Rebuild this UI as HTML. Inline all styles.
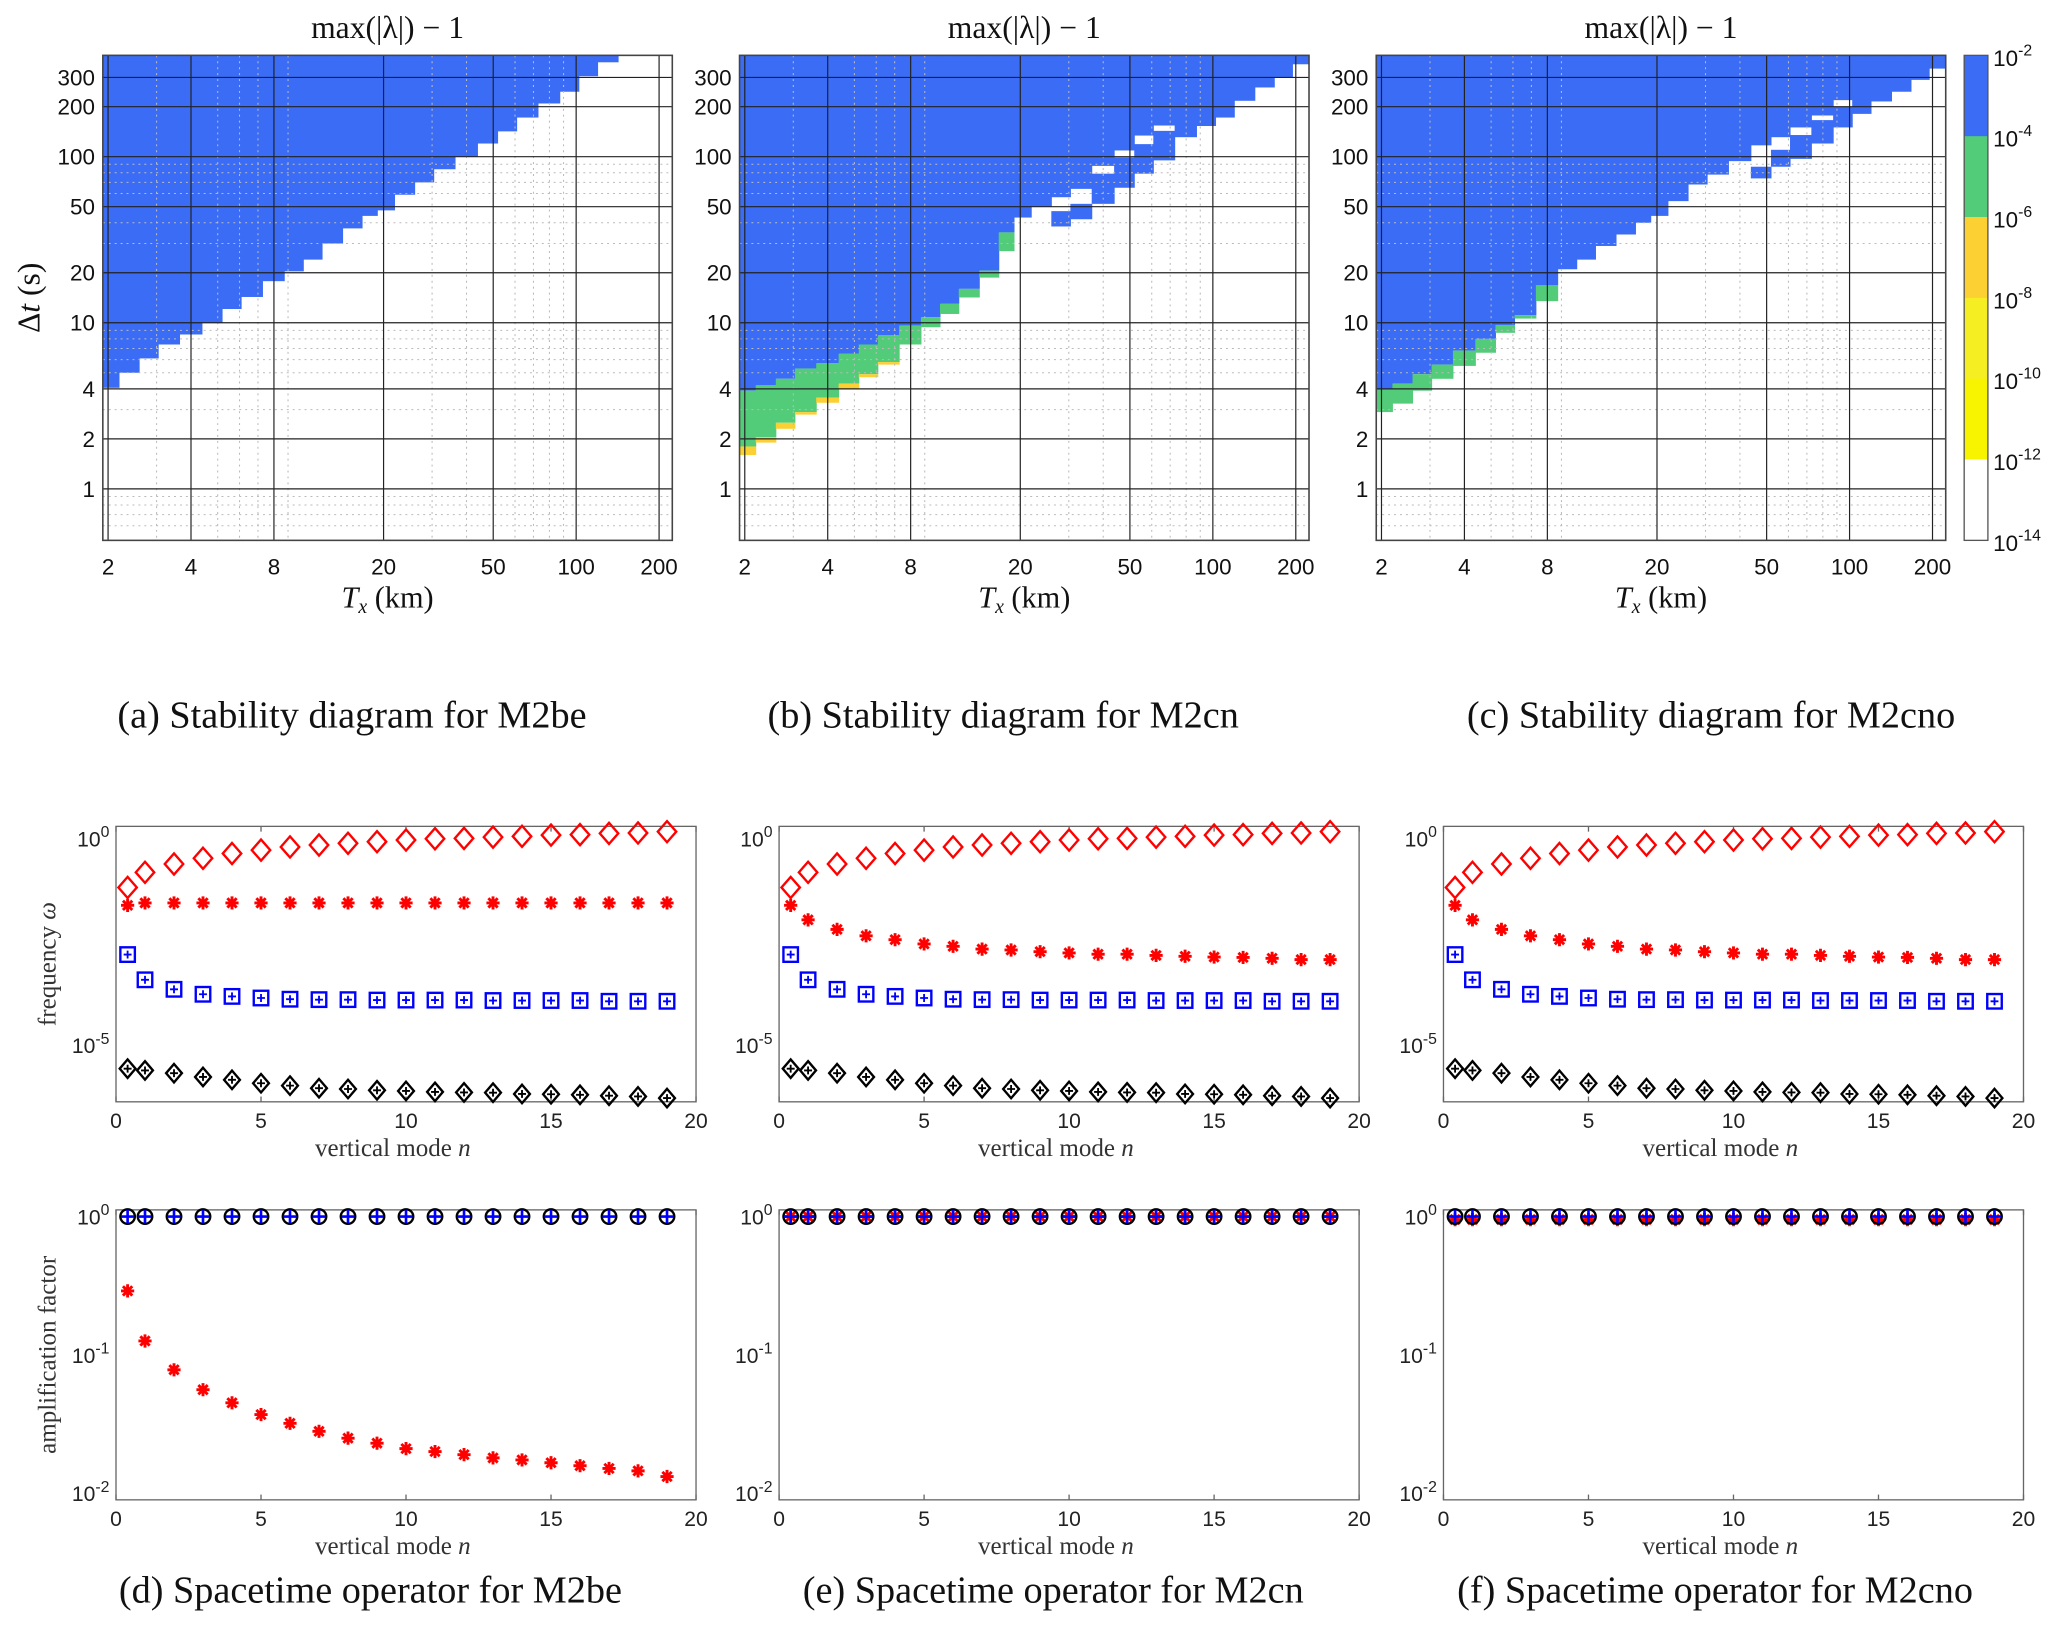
<!DOCTYPE html>
<html><head><meta charset="utf-8"><title>Stability diagrams</title>
<style>html,body{margin:0;padding:0;background:#fff}svg{display:block}</style></head>
<body>
<svg id="fig" xmlns="http://www.w3.org/2000/svg" width="2067" height="1629" viewBox="0 0 1568 1236" preserveAspectRatio="none"></svg>
<script>
// ---------- heatmap data ----------
const TX = [2,2.4,2.8,3.3,4,4.8,5.6,6.6,8,9.5,11,13,15.5,18,20,24,28,33,40,48,56,66,80,95,110,130,155,180,210];
const aBlue = [4.06,5,6.1,7.4,8.5,10,12.1,14.3,17.8,20.4,24,30,37,44,47.5,59,70,84,100,120,142,172,209,246,305,370,999,999,999];
const bBlue = [3.9,4.2,4.6,5.3,5.7,6.5,7.4,8.4,9.6,10.8,13,16,20.6,35,43,50,57,64,88,109,134,154,131,153,172,217,261,300,360];
const bGreen = [1.8,2.05,2.5,2.9,3.55,4.3,4.9,5.8,7.4,9.4,11.3,14.2,18.7,27,43,50,57,64,88,109,134,154,131,153,172,217,261,300,360];
const bYellow = [1.6,1.9,2.3,2.8,3.3,4.0,4.7,5.6,7.4,9.4,11.3,14.2,18.7,27,43,50,57,64,88,109,134,154,131,153,172,217,261,300,360];
const bIslLo = [0,0,0,0,0,0,0,0,0,0,0,0,0,0,0,0,38,42,52,65,79,95,0,0,0,0,0,0,0];
const bIslHi = [0,0,0,0,0,0,0,0,0,0,0,0,0,0,0,0,47,52,79,99,119,143,0,0,0,0,0,0,0];
const cBlue = [4.0,4.3,4.9,5.6,6.8,8.0,9.7,11.1,16.8,21,24,29,34,40,44,54,68,78,94,117,131,150,177,219,181,215,246,290,339];
const cGreen = [2.9,3.26,3.9,4.6,5.5,6.6,8.7,10.6,13.5,21,24,29,34,40,44,54,68,78,94,117,131,150,177,219,181,215,246,290,339];
const cIslLo = [0,0,0,0,0,0,0,0,0,0,0,0,0,0,0,0,0,0,0,74,87,97,120,150,0,0,0,0,0];
const cIslHi = [0,0,0,0,0,0,0,0,0,0,0,0,0,0,0,0,0,0,0,87,110,135,166,200,0,0,0,0,0];
const xTickVals = [2,4,8,20,50,100,200];
const yTickVals = [1,2,4,10,20,50,100,200,300];
const cbarLabels = ["-2","-4","-6","-8","-10","-12","-14"];
// ---------- mode data ----------
const N = [0.4,1,2,3,4,5,6,7,8,9,10,11,12,13,14,15,16,17,18,19];
const freqDiamond = [0.065,0.151,0.24,0.33,0.43,0.52,0.62,0.69,0.76,0.83,0.91,0.98,1.0,1.07,1.12,1.2,1.23,1.32,1.35,1.45];
const freqStarBE = [0.024,0.0275,0.0275,0.0275,0.0275,0.0275,0.0275,0.0275,0.0275,0.0275,0.0275,0.0275,0.0275,0.0275,0.0275,0.0275,0.0275,0.0275,0.0275,0.0275];
const freqStarCN = [0.024,0.0107,6.3e-3,4.4e-3,3.55e-3,2.8e-3,2.45e-3,2.1e-3,2.0e-3,1.82e-3,1.7e-3,1.58e-3,1.58e-3,1.48e-3,1.41e-3,1.35e-3,1.32e-3,1.26e-3,1.17e-3,1.17e-3];
const freqSquare = [1.55e-3,3.8e-4,2.24e-4,1.7e-4,1.51e-4,1.38e-4,1.29e-4,1.26e-4,1.26e-4,1.23e-4,1.23e-4,1.23e-4,1.23e-4,1.2e-4,1.2e-4,1.2e-4,1.2e-4,1.15e-4,1.15e-4,1.15e-4];
const freqBlackDiamond = [2.7e-6,2.45e-6,2.1e-6,1.7e-6,1.45e-6,1.2e-6,1.05e-6,9.1e-7,8.7e-7,8.1e-7,7.8e-7,7.4e-7,7.2e-7,7.1e-7,6.6e-7,6.5e-7,6.3e-7,6.0e-7,5.75e-7,5.25e-7];
const ampStarBE = [0.29,0.126,0.078,0.056,0.045,0.037,0.032,0.028,0.025,0.023,0.021,0.02,0.019,0.018,0.0174,0.0166,0.0158,0.0151,0.0145,0.0132];
const ampOne = [1,1,1,1,1,1,1,1,1,1,1,1,1,1,1,1,1,1,1,1];
const ampStarCNO = [0.95,0.95,0.95,0.95,0.95,0.95,0.95,0.95,0.95,0.95,0.95,0.95,0.95,0.95,0.95,0.95,0.95,0.95,0.95,0.95];
const modeTicks = [0,5,10,15,20];

const NS = 'http://www.w3.org/2000/svg';
const svg = document.getElementById('fig');
function el(tag, attrs, parent, txt){
  const e = document.createElementNS(NS, tag);
  for (const k in attrs) e.setAttribute(k, attrs[k]);
  if (txt !== undefined) e.textContent = txt;
  (parent||svg).appendChild(e);
  return e;
}
const BLUE='#3a6cf6', GREEN='#52cc78', ORANGE='#fcd032', YEL='#f4ee22', YEL2='#f8f400';
const SANS='"Liberation Sans", Arial, sans-serif', SERIF='"Liberation Serif", "Times New Roman", serif';

function heatmap(L, title, blue, green, yellow, islLo, islHi, showY, name){
  const R=L+432, T=42, B=410, xl0=0.282, xl1=2.349, yl0=-0.31, yl1=2.61;
  const X = v => L + (Math.log10(v)-xl0)/(xl1-xl0)*(R-L);
  const Y = v => B - (Math.log10(v)-yl0)/(yl1-yl0)*(B-T);
  const yc = v => Math.max(T, Math.min(B, Y(v)));
  const g = el('g', {});  
  const cells = el('g', {}, g);  
  function rect(x0,x1,vLo,vHi,fill){
    const y0=yc(vHi), y1=yc(vLo); if (y1-y0<=0) return;
    const r = el('rect',{x:x0,y:y0,width:x1-x0+0.4,height:y1-y0,fill:fill},cells);
     
  }
  for (let i=0;i<TX.length;i++){
    const x0 = i===0 ? L : X(Math.sqrt(TX[i-1]*TX[i]));
    const x1 = i===TX.length-1 ? R : X(Math.sqrt(TX[i]*TX[i+1]));
    rect(x0,x1,blue[i],1000,BLUE);
    if (green) rect(x0,x1,green[i],blue[i],GREEN);
    if (yellow) rect(x0,x1,yellow[i],green[i],ORANGE);
    if (islLo && islLo[i]>0) rect(x0,x1,islLo[i],islHi[i],BLUE);
  }
  const minorX=[3,5,6,7,9,30,40,60,70,80,90];
  minorX.forEach(v=>el('line',{x1:X(v),x2:X(v),y1:T,y2:B,stroke:'#bbb','stroke-width':0.8,'stroke-dasharray':'1.5 3'},g));
  const minorY=[0.6,0.7,0.8,0.9,3,5,6,7,8,9,30,40,60,70,80,90];
  minorY.forEach(v=>el('line',{x1:L,x2:R,y1:Y(v),y2:Y(v),stroke:'#bbb','stroke-width':0.8,'stroke-dasharray':'1.5 3'},g));
  xTickVals.forEach(v=>{
    el('line',{x1:X(v),x2:X(v),y1:T,y2:B,stroke:'#222','stroke-width':0.9},g);
    const t=el('text',{x:X(v),y:436,'font-family':SANS,'font-size':17,'text-anchor':'middle',fill:'#111'},g,String(v));
     
  });
  yTickVals.forEach(v=>{
    el('line',{x1:L,x2:R,y1:Y(v),y2:Y(v),stroke:'#222','stroke-width':0.9},g);
    const t=el('text',{x:L-6,y:Y(v)+6,'font-family':SANS,'font-size':17,'text-anchor':'end',fill:'#111'},g,String(v));
     
  });
  const fr=el('rect',{x:L,y:T,width:R-L,height:B-T,fill:'none',stroke:'#444','stroke-width':1.2},g);
   
  const tt=el('text',{x:(L+R)/2,y:29,'font-family':SERIF,'font-size':24,'text-anchor':'middle',fill:'#111'},g,title);
   
  const xl=el('text',{x:(L+R)/2,y:461,'font-family':SERIF,'font-size':23,'text-anchor':'middle',fill:'#111'},g);
   
  el('tspan',{'font-style':'italic'},xl,'T');
  el('tspan',{'font-style':'italic','font-size':15,dy:4},xl,'x');
  el('tspan',{dy:-4},xl,' (km)');
  if (showY){
    const yt=el('text',{x:0,y:0,'font-family':SERIF,'font-size':24,'text-anchor':'middle',fill:'#111',transform:'translate(30,226) rotate(-90)'},g);
     
    el('tspan',{},yt,'Δ'); el('tspan',{'font-style':'italic'},yt,'t'); el('tspan',{},yt,' (s)');
  }
}
heatmap(78,'max(|λ|) − 1',aBlue,null,null,null,null,true,'stability-plot-m2be');
heatmap(561,'max(|λ|) − 1',bBlue,bGreen,bYellow,bIslLo,bIslHi,false,'stability-plot-m2cn');
heatmap(1044,'max(|λ|) − 1',cBlue,cGreen,null,cIslLo,cIslHi,false,'stability-plot-m2cno');

(function(){
  const g=el('g',{});  
  const cols=[BLUE,GREEN,ORANGE,YEL,YEL2,'#fff'];
  const T=42,B=410,h=(B-T)/6;
  cols.forEach((c,i)=>{const r=el('rect',{x:1490,y:T+i*h,width:18,height:h+0.3,fill:c},g);
     });
  el('rect',{x:1490,y:T,width:18,height:B-T,fill:'none',stroke:'#555','stroke-width':1},g);
  cbarLabels.forEach((s,i)=>{
    const t=el('text',{x:1512,y:T+i*h+8,'font-family':SANS,'font-size':17,fill:'#111'},g);
     
    el('tspan',{},t,'10'); el('tspan',{dy:-8,'font-size':12},t,s);
  });
})();

function caption(x,y,s){const t=el('text',{x:x,y:y,'font-family':SERIF,'font-size':29,'text-anchor':'middle',fill:'#111'},svg,s);
   }
caption(267,552,'(a) Stability diagram for M2be');
caption(761,552,'(b) Stability diagram for M2cn');
caption(1298,552,'(c) Stability diagram for M2cno');
caption(281,1216,'(d) Spacetime operator for M2be');
caption(799,1216,'(e) Spacetime operator for M2cn');
caption(1301,1216,'(f) Spacetime operator for M2cno');

function marker(g,type,x,y){
  let m;
  if (type==='rdiam'){ m=el('path',{d:`M${x} ${y-8}L${x+7} ${y}L${x} ${y+8}L${x-7} ${y}Z`,fill:'none',stroke:'#f00','stroke-width':1.8},g); }
  else if (type==='star'){ const r=5; let d=''; for(let k=0;k<4;k++){const a=k*Math.PI/4; d+=`M${x-r*Math.cos(a)} ${y-r*Math.sin(a)}L${x+r*Math.cos(a)} ${y+r*Math.sin(a)}`;}
    m=el('path',{d:d,stroke:'#f00','stroke-width':2.2,fill:'none'},g); }
  else if (type==='sq'){ m=el('g',{},g);
    el('rect',{x:x-5.5,y:y-5.5,width:11,height:11,fill:'none',stroke:'#00f','stroke-width':1.8},m);
    el('path',{d:`M${x-3} ${y}L${x+3} ${y}M${x} ${y-3}L${x} ${y+3}`,stroke:'#00f','stroke-width':1.4},m); }
  else if (type==='kdiam'){ m=el('g',{},g);
    el('path',{d:`M${x} ${y-7}L${x+6} ${y}L${x} ${y+7}L${x-6} ${y}Z`,fill:'none',stroke:'#000','stroke-width':1.8},m);
    el('path',{d:`M${x-3} ${y}L${x+3} ${y}M${x} ${y-3}L${x} ${y+3}`,stroke:'#000','stroke-width':1.4},m); }
  else if (type==='circ'){ m=el('g',{},g);
    el('circle',{cx:x,cy:y,r:5.5,fill:'none',stroke:'#000','stroke-width':1.8},m);
    el('path',{d:`M${x-5} ${y}L${x+5} ${y}M${x} ${y-5}L${x} ${y+5}`,stroke:'#00f','stroke-width':2},m); }
  
  
}

function modePlot(L,T,B,yl0,yl1,decs,series,ylabel,name){
  const R=L+440;
  const X=v=>L+v/20*(R-L);
  const Y=v=>B-(Math.log10(v)-yl0)/(yl1-yl0)*(B-T);
  const g=el('g',{});  
  el('rect',{x:L,y:T,width:R-L,height:B-T,fill:'#fff',stroke:'#666','stroke-width':1},g);
  modeTicks.forEach(v=>{
    el('line',{x1:X(v),x2:X(v),y1:B,y2:B-4,stroke:'#666'},g);
    el('line',{x1:X(v),x2:X(v),y1:T,y2:T+4,stroke:'#666'},g);
    const t=el('text',{x:X(v),y:B+20,'font-family':SANS,'font-size':16,'text-anchor':'middle',fill:'#222'},g,String(v));
     
  });
  for(let e=Math.ceil(yl1);e<=Math.floor(yl0);e++){
    el('line',{x1:L,x2:L+4,y1:Y(Math.pow(10,e)),y2:Y(Math.pow(10,e)),stroke:'#666'},g);
    el('line',{x1:R,x2:R-4,y1:Y(Math.pow(10,e)),y2:Y(Math.pow(10,e)),stroke:'#666'},g);
  }
  decs.forEach(e=>{
    const t=el('text',{x:L-5,y:Y(Math.pow(10,e))+6,'font-family':SANS,'font-size':16,'text-anchor':'end',fill:'#222'},g);
     
    el('tspan',{},t,'10'); el('tspan',{dy:-7,'font-size':12},t,String(e));
  });
  series.forEach(s=>{const sg=el('g',{},g);  
    N.forEach((n,i)=>marker(sg,s.t,X(n),Y(s.v[i])));});
  const xl=el('text',{x:(L+R)/2-10,y:B+41,'font-family':SERIF,'font-size':19,'text-anchor':'middle',fill:'#333'},g);
   
  el('tspan',{},xl,'vertical mode '); el('tspan',{'font-style':'italic'},xl,'n');
  if (ylabel){
    const yt=el('text',{x:0,y:0,'font-family':SERIF,'font-size':19,'text-anchor':'middle',fill:'#333',transform:`translate(42,${(T+B)/2}) rotate(-90)`},g);
     
    if (ylabel==='freq'){ el('tspan',{},yt,'frequency '); el('tspan',{'font-style':'italic'},yt,'ω'); }
    else el('tspan',{},yt,'amplification factor');
  }
}
const lefts=[88,591,1095];
const starF=[freqStarBE,freqStarCN,freqStarCN];
const ampS=[ampStarBE,ampOne,ampStarCNO];
['m2be','m2cn','m2cno'].forEach((nm,k)=>{
  modePlot(lefts[k],627,836,-6.37,0.29,[0,-5],[
    {t:'rdiam',v:freqDiamond},{t:'star',v:starF[k]},{t:'sq',v:freqSquare},{t:'kdiam',v:freqBlackDiamond}],
    k===0?'freq':null,'frequency-plot-'+nm);
  modePlot(lefts[k],918,1138,-2.048,0.048,[0,-1,-2],[
    {t:'star',v:ampS[k]},{t:'circ',v:ampOne}],
    k===0?'amp':null,'amplification-plot-'+nm);
});
</script>
</body></html>
